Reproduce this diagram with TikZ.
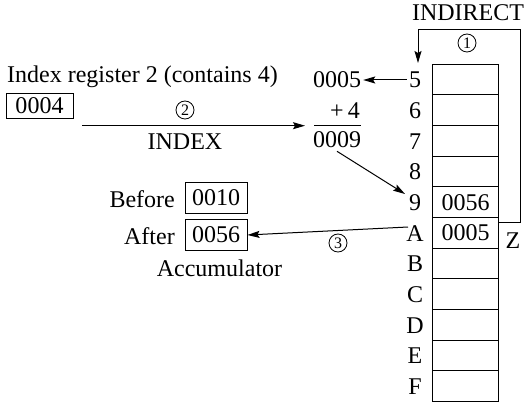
\documentclass[tikz,border=0pt]{standalone}
\usepackage{fontspec}
\setmainfont{Liberation Serif}
\usetikzlibrary{arrows.meta,calc}
\begin{document}
\begin{tikzpicture}[x=1pt,y=-1pt,
  every node/.style={font=\fontsize{24}{28}\selectfont},
  lw/.style={line width=1pt},
  arr/.style={lw,-{Stealth[length=12pt,width=7pt,inset=2pt]}},
  cell/.style={draw,lw,minimum width=66.5pt,minimum height=30.65pt,inner sep=0pt,anchor=center},
  lab/.style={inner sep=2pt,anchor=center},
  reg/.style={draw,lw,inner sep=0pt,anchor=center},
  circ/.style={draw,circle,line width=0.8pt,minimum size=18pt,inner sep=0pt,font=\fontsize{16}{18}\selectfont}
]
\useasboundingbox (0,0) rectangle (524,403);
% memory cells
\foreach \n/\lbl [count=\i from 0] in {m5/5,m6/6,m7/7,m8/8,m9/9,mA/A,mB/B,mC/C,mD/D,mE/E,mF/F}{
  \node[cell] (\n) at (465.5,{79.6+\i*30.65}) {};
  \node[lab] (l\n) at (415,{80+\i*30.65}) {\lbl};
}
\node[anchor=center] (v9) at (m9) {0056};
\node[anchor=center] (vA) at (mA) {0005};
% indirect loop
\node[lab] (indirect) at (468,13) {INDIRECT};
\node[circ] (c1) at (467,43) {1};
\node[lab] (z) at (513,241) {Z};
\coordinate (ls) at (498.75,223);
\coordinate (lr) at (520.7,30);
\coordinate (le) at (418,63);
\draw[arr] (ls) -- (ls -| lr) -- (lr) -- (lr -| le) -- (le);
% index register
\node[lab,anchor=west] (irtext) at (5,77) {Index register 2 (contains 4)};
\node[reg,minimum width=67pt,minimum height=25pt] (r4) at (39.5,106) {0004};
\node[circ] (c2) at (185,110) {2};
\node[lab] (index) at (185,142) {INDEX};
% sum
\node[lab] (n5) at (337,80) {0005};
\node[lab] (p4) at (345,111) {+\,4};
\node[lab] (n9) at (337,140) {0009};
\coordinate (sumL) at (314,125.7);
\coordinate (sumR) at (361,125.7);
\draw[lw] (sumL) -- (sumR);
\coordinate (idxs) at (82,125.7);
\draw[arr] (idxs) -- ([xshift=-9pt]sumL);
\draw[arr] (lm5.west) -- (n5.east);
\coordinate (t9) at (405,194);
\draw[arr] ([yshift=-1pt]n9.south) -- (t9);
% accumulator
\node[reg,minimum width=62pt,minimum height=30.5pt] (before) at (216,198) {0010};
\node[reg,minimum width=62pt,minimum height=30.5pt] (after) at (216,235) {0056};
\node[lab,anchor=east] (bt) at (177,199) {Before};
\node[lab,anchor=east] (at) at (177,236) {After};
\node[lab] (acc) at (219.5,268) {Accumulator};
\coordinate (a3s) at (408,227);
\draw[arr] (a3s) -- (after.east);
\node[circ] (c3) at (338,243) {3};
\end{tikzpicture}
\end{document}
